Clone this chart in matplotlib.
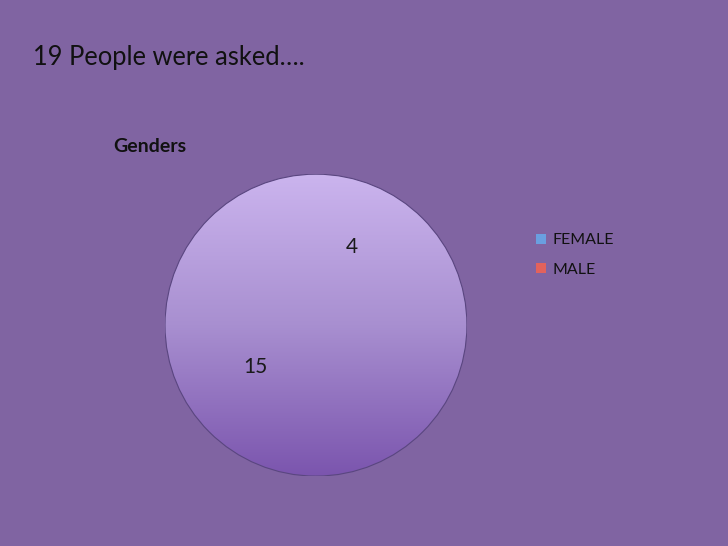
import numpy as np
import matplotlib.pyplot as plt
import matplotlib.patches as mpatches
from matplotlib.colors import LinearSegmentedColormap

plt.rcParams["font.family"] = ["Lato", "DejaVu Sans"]

# data
categories = ["FEMALE", "MALE"]
counts = [4, 15]
legend_colors = ["#6a9fe0", "#e2625c"]
label_pos = [(0.24, 0.52), (-0.40, -0.28)]  # where the data labels sit, in pie radii

BG = "#8064a2"

fig = plt.figure(figsize=(7.28, 5.46), dpi=100)
fig.patch.set_facecolor(BG)

ax = fig.add_axes([0.2266, 0.128, 0.4148, 0.553])
ax.set_facecolor(BG)
ax.axis("off")

wedges, texts = ax.pie(
    counts, startangle=90, counterclock=False, radius=1,
    labels=[str(c) for c in counts], labeldistance=0.55,
    wedgeprops=dict(facecolor="none", edgecolor="none"),
    textprops=dict(fontsize=15, color="#1a1a1a"),
)
for t, p in zip(texts, label_pos):
    t.set_position(p)
    t.set_ha("center")
    t.set_va("center")

# one vertical gradient over the whole pie (both slices share the same fill)
grad = LinearSegmentedColormap.from_list("g", ["#7b55ae", "#a88fd0", "#cbb4ee"])
gy = np.linspace(0, 1, 256).reshape(-1, 1)
im = ax.imshow(gy, cmap=grad, extent=[-1, 1, -1, 1], origin="lower",
               aspect="auto", zorder=0)
rim = mpatches.Circle((0, 0), 1, facecolor="none", edgecolor="#5a4680",
                      linewidth=0.8, zorder=3)
ax.add_patch(rim)
im.set_clip_path(rim)
ax.set_xlim(-1, 1)
ax.set_ylim(-1, 1)
ax.set_aspect("equal")

fig.text(33 / 728, 1 - 57 / 546, "19 People were asked….", fontsize=18.4,
         color="#111111", va="center", ha="left")
fig.text(113 / 728, 1 - 147 / 546, "Genders", fontsize=14, fontweight="bold",
         color="#111111", va="center", ha="left")

handles = [mpatches.Patch(facecolor=c, edgecolor="none") for c in legend_colors]
leg = fig.legend(handles, categories, loc="upper left",
                 bbox_to_anchor=(522 / 728, 1 - 219 / 546), frameon=False,
                 fontsize=11.5, handlelength=0.6, handleheight=0.6,
                 handletextpad=0.4, labelspacing=0.95)
for t in leg.get_texts():
    t.set_color("#111111")

fig.savefig("out.png", dpi=100, facecolor=BG)
